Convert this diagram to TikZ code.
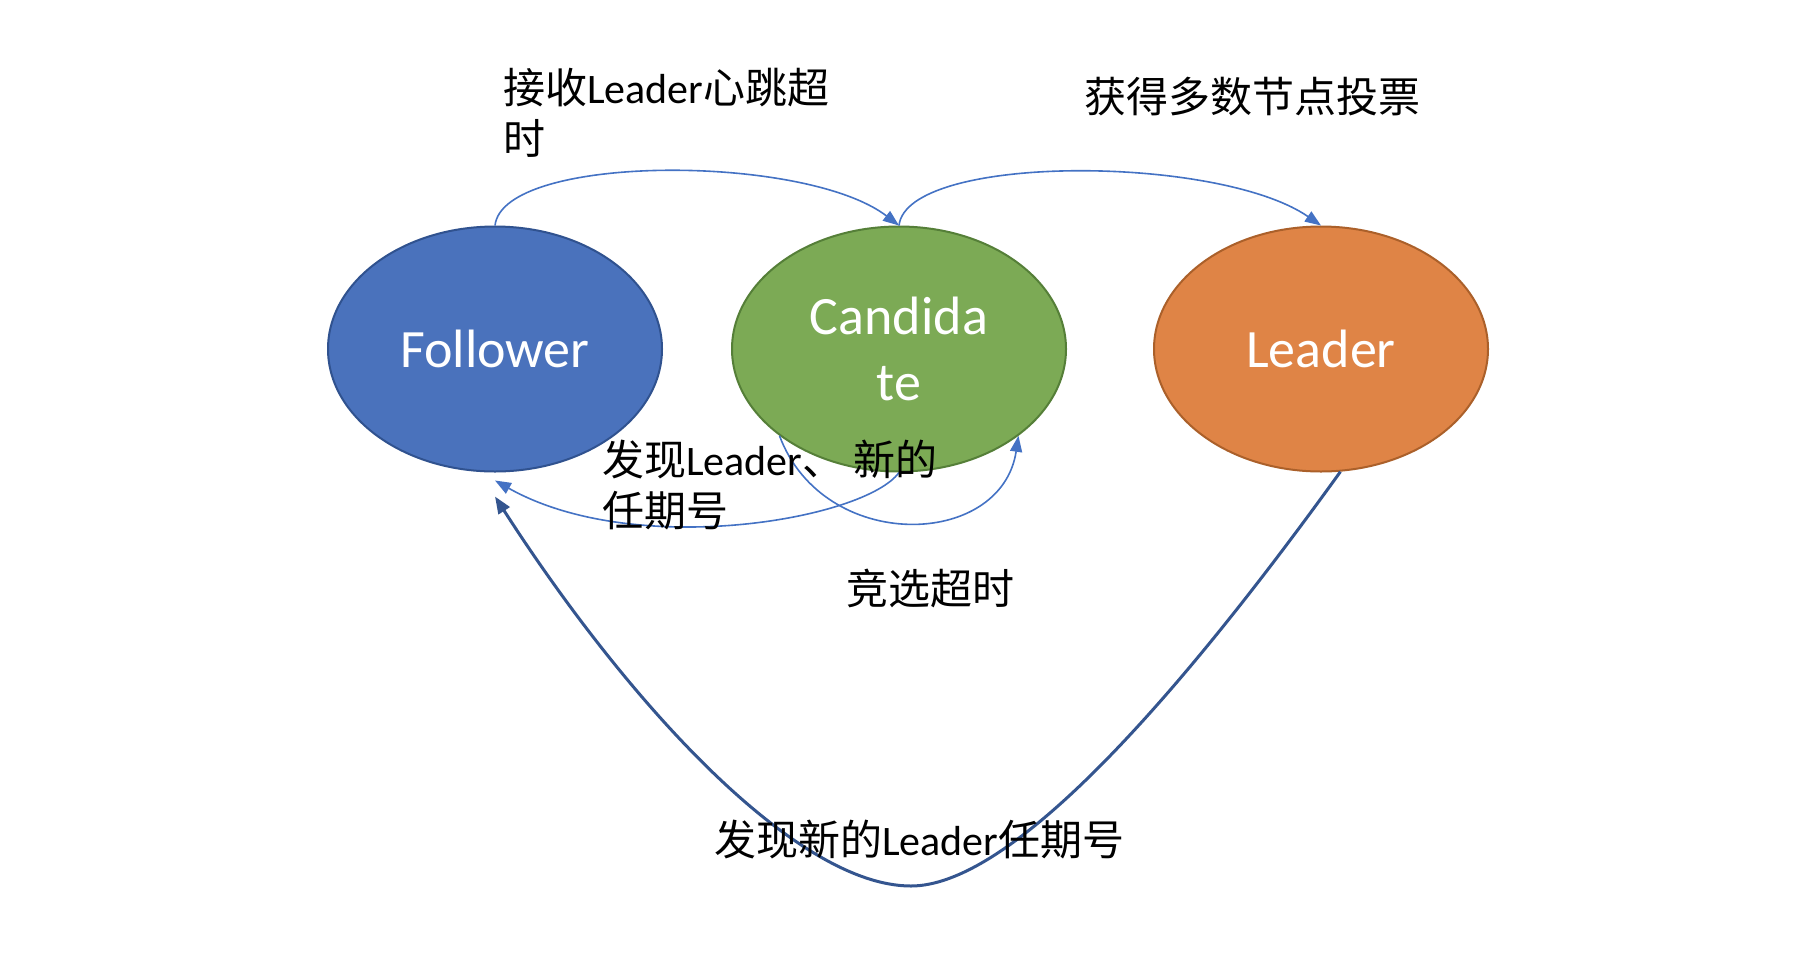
\documentclass[tikz,border=0pt]{standalone}
\usepackage{fontspec}
\setmainfont{Carlito}
\newfontfamily\cjk{Noto Sans CJK SC}
\usetikzlibrary{shapes.geometric,arrows.meta}
\definecolor{fblue}{HTML}{4A72BC}
\definecolor{fblueb}{HTML}{30528F}
\definecolor{cgreen}{HTML}{7CAA55}
\definecolor{cgreenb}{HTML}{557F38}
\definecolor{lorange}{HTML}{DF8446}
\definecolor{lorangeb}{HTML}{AB602A}
\definecolor{ablue}{HTML}{4472C4}
\definecolor{dblue}{HTML}{34558F}
\begin{document}
\begin{tikzpicture}[x=1pt,y=-1pt,
  state/.style={ellipse, draw, line width=2pt, minimum width=334pt, minimum height=245pt,
    inner sep=0pt, text=white, font=\fontsize{54}{66}\selectfont, align=center},
  lbl/.style={anchor=west, align=left, font=\fontsize{42}{51}\selectfont, inner sep=0pt},
  edgea/.style={draw=ablue, line width=1.6pt, -{Triangle[length=16pt,width=12pt]}},
  edgeb/.style={draw=dblue, line width=3pt, -{Triangle[length=17pt,width=13pt]}}]
\fill[white] (0,0) rectangle (1808,978);
\useasboundingbox (0,0) rectangle (1808,978);

\node[state, fill=fblue, draw=fblueb] (F) at (495,349) {Follower};
\node[state, fill=cgreen, draw=cgreenb] (C) at (899,349) {Candida\\te};
\node[state, fill=lorange, draw=lorangeb] (L) at (1321,349) {Leader};

\coordinate (f3) at ([yshift=-8pt]F.south);
\coordinate (f5) at ([yshift=-24pt]F.south);
\coordinate (m5) at (911,886);

\draw[edgea] (F.north) .. controls +(8,-72) and +(-94,-72) .. (C.north);
\draw[edgea] (C.north) .. controls +(8,-72) and +(-103,-71) .. (L.north);
\draw[edgea] (C.south) .. controls +(-34,47) and +(140,79) .. (f3);
\draw[edgea] (C.216) .. controls +(44,118) and +(-17,113) .. (C.-36);
\draw[edgeb] (L.-81) .. controls +(-180,250) and +(94,0) .. (m5)
  .. controls +(-116,0) and +(131,204) .. (f5);

\node[lbl] (t1) at (503,113) {{\cjk 接收}Leader{\cjk 心跳超}\\{\cjk 时}};
\node[lbl] (t2) at (1084,97) {\cjk 获得多数节点投票};
\node[lbl] (t3) at (602,485) {{\cjk 发现}Leader{\cjk 、} {\cjk 新的}\\{\cjk 任期号}};
\node[lbl] (t4) at (846,588) {\cjk 竞选超时};
\node[lbl] (t5) at (714,840) {{\cjk 发现新的}Leader{\cjk 任期号}};
\end{tikzpicture}
\end{document}
